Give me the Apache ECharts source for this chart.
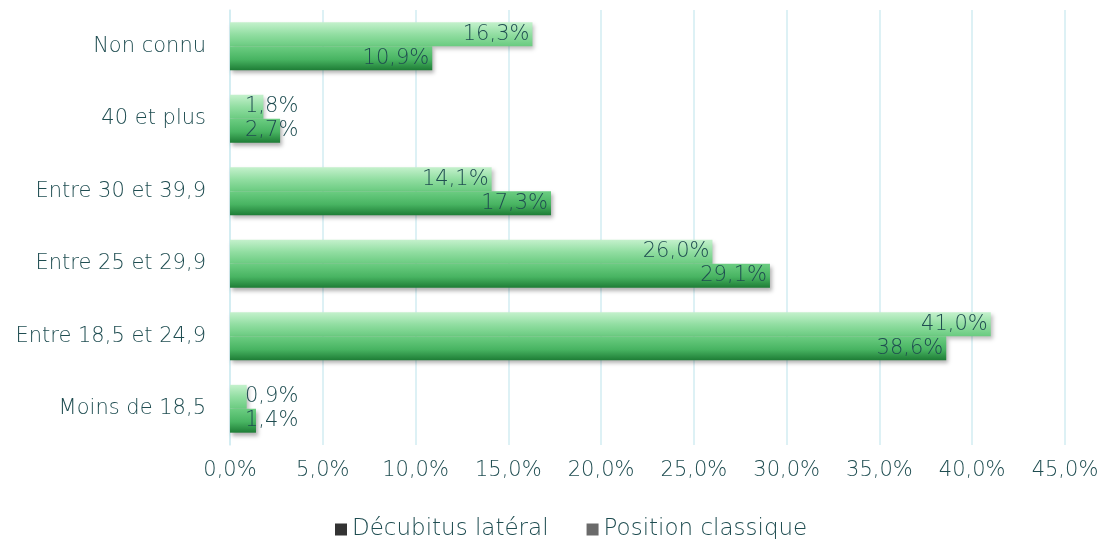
<!DOCTYPE html>
<html>
<head>
<meta charset="utf-8">
<script src="https://cdn.jsdelivr.net/npm/echarts@6/dist/echarts.min.js"></script>
<style>
  html, body { margin: 0; padding: 0; background: #fff; }
  #chart { width: 1106px; height: 539px; }
</style>
</head>
<body>
<div id="chart"></div>
<script>
var categories = ['Moins de 18,5', 'Entre 18,5 et 24,9', 'Entre 25 et 29,9', 'Entre 30 et 39,9', '40 et plus', 'Non connu'];
var decubitusLateral = [1.4, 38.6, 29.1, 17.3, 2.7, 10.9];
var positionClassique = [0.9, 41.0, 26.0, 14.1, 1.8, 16.3];

var textColor = '#1f4d51';
var fontFamily = '"DejaVu Sans", sans-serif';
var fontWeight = 200;

function pct(v) {
    return v.toFixed(1).replace('.', ',') + '%';
}

// small bars: label sits just right of the axis instead of inside
function withLabels(values) {
    return values.map(function (v) {
        if (v < 5) {
            return { value: v, label: { position: 'insideLeft', distance: 15 } };
        }
        return v;
    });
}

var chart = echarts.init(document.getElementById('chart'));

var barLabel = {
    show: true,
    position: 'insideRight',
    distance: 3,
    color: textColor,
    fontFamily: fontFamily,
    fontWeight: fontWeight,
    fontSize: 21,
    formatter: function (p) { return pct(p.value); }
};

chart.setOption({
    animation: false,
    grid: { left: 230, right: 41, top: 10, bottom: 94 },
    legend: {
        top: 513,
        left: 330,
        itemWidth: 12,
        itemHeight: 12,
        itemGap: 38,
        icon: 'rect',
        textStyle: { color: textColor, fontFamily: fontFamily, fontWeight: fontWeight, fontSize: 23 },
        data: [
            { name: 'Décubitus latéral', itemStyle: { color: '#333333' } },
            { name: 'Position classique', itemStyle: { color: '#6a6a6a' } }
        ]
    },
    xAxis: {
        type: 'value',
        min: 0,
        max: 45,
        interval: 5,
        axisLine: { show: false },
        axisTick: { show: false },
        splitLine: { lineStyle: { color: '#d2ecf2', width: 1.5 } },
        axisLabel: {
            color: textColor,
            fontFamily: fontFamily,
            fontWeight: fontWeight,
            fontSize: 21,
            margin: 15,
            formatter: function (v) { return pct(v); }
        }
    },
    yAxis: {
        type: 'category',
        data: categories,
        axisLine: { show: true, lineStyle: { color: '#d2ecf2', width: 1.5 } },
        axisTick: { show: false },
        axisLabel: {
            color: textColor,
            fontFamily: fontFamily,
            fontWeight: fontWeight,
            fontSize: 21,
            margin: 24
        }
    },
    series: [
        {
            name: 'Position classique',
            type: 'bar',
            barGap: '0%',
            barCategoryGap: '34%',
            data: withLabels(positionClassique),
            label: barLabel,
            itemStyle: {
                color: new echarts.graphic.LinearGradient(0, 0, 0, 1, [
                    { offset: 0, color: '#c4f1cc' },
                    { offset: 0.5, color: '#92dea2' },
                    { offset: 1, color: '#6acb80' }
                ]),
                shadowColor: 'rgba(0, 0, 0, 0.25)',
                shadowBlur: 4,
                shadowOffsetX: 2,
                shadowOffsetY: 3
            }
        },
        {
            name: 'Décubitus latéral',
            type: 'bar',
            data: withLabels(decubitusLateral),
            label: barLabel,
            itemStyle: {
                color: new echarts.graphic.LinearGradient(0, 0, 0, 1, [
                    { offset: 0, color: '#6ccd82' },
                    { offset: 0.55, color: '#48b462' },
                    { offset: 1, color: '#1e7d36' }
                ]),
                shadowColor: 'rgba(0, 0, 0, 0.3)',
                shadowBlur: 4,
                shadowOffsetX: 2,
                shadowOffsetY: 3
            }
        }
    ]
});
</script>
</body>
</html>
